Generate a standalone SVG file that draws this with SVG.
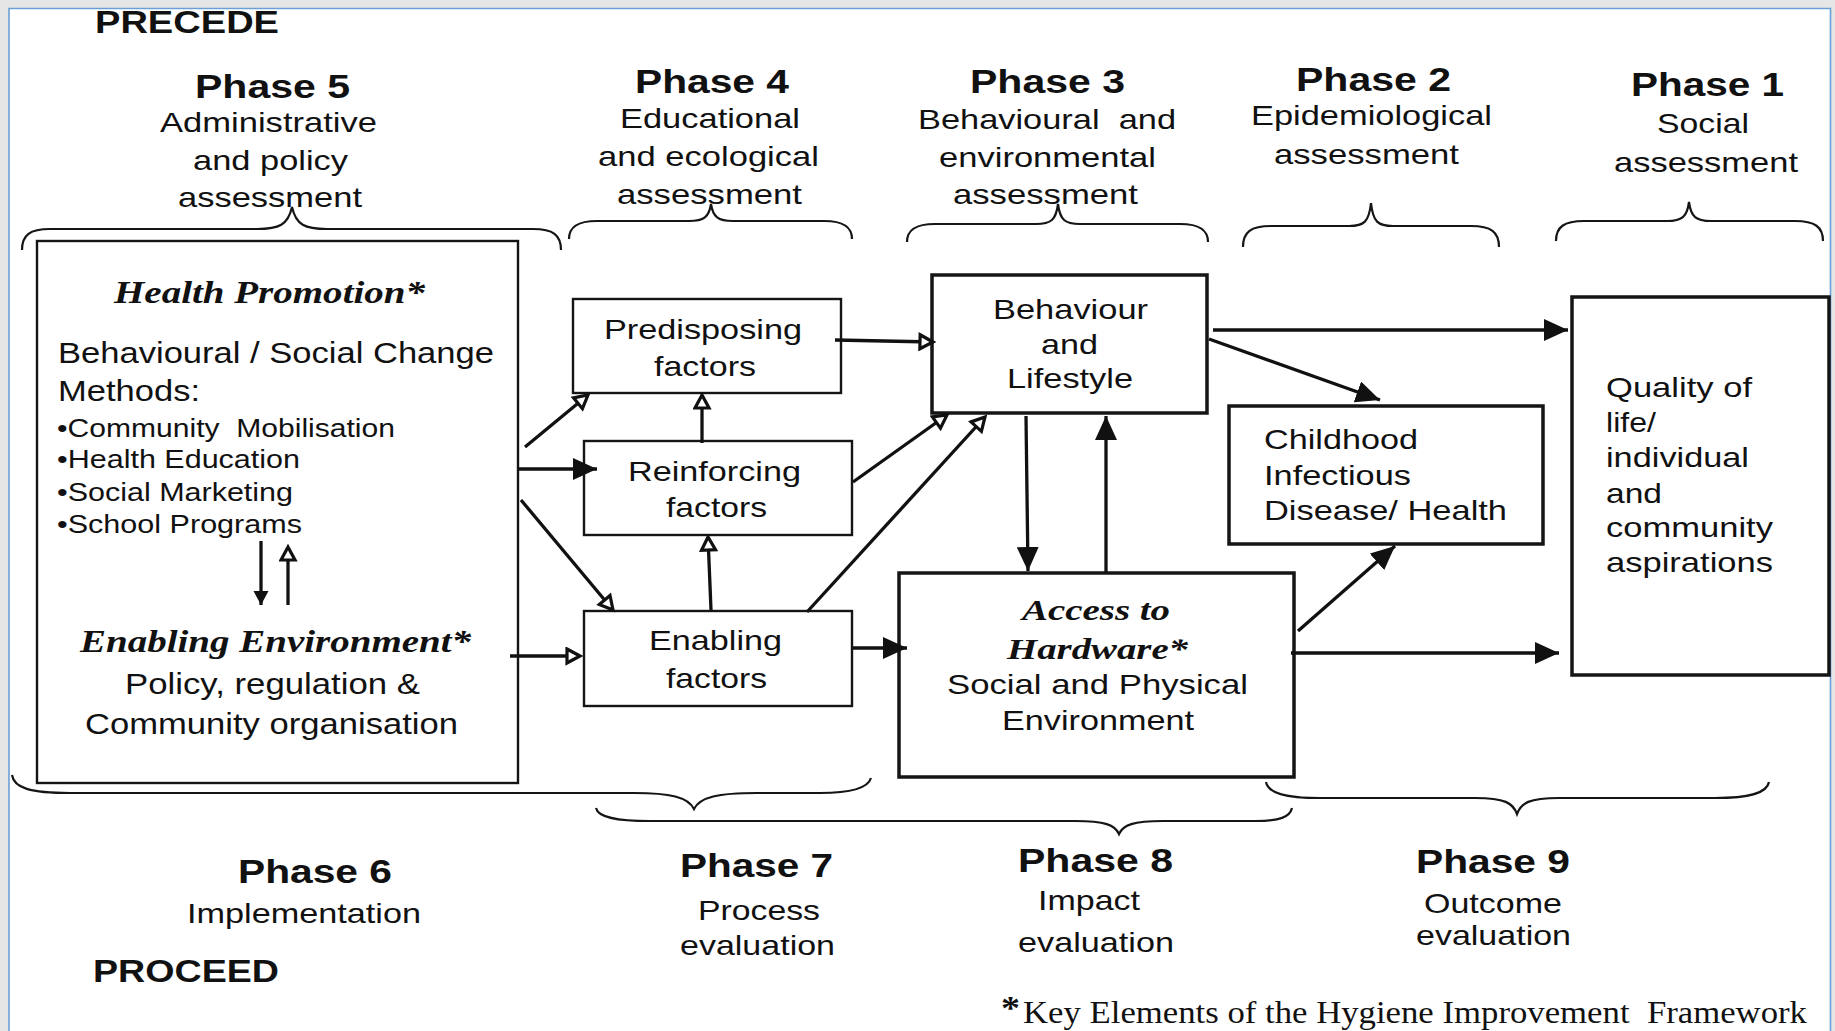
<svg xmlns="http://www.w3.org/2000/svg" width="1835" height="1031" viewBox="0 0 1835 1031">
<defs>
<style>
.s{font-family:"Liberation Sans",Arial,Helvetica,sans-serif;fill:#111;}
.t{font-size:28px;}
.b{font-size:29px;}
.u{font-size:25px;}
.h{font-size:33px;font-weight:bold;}
.bi{font-family:"Liberation Serif","Times New Roman",serif;font-weight:bold;font-style:italic;fill:#111;}
.fn{font-family:"Liberation Serif","Times New Roman",serif;fill:#111;}
.box{fill:#fff;stroke:#151515;stroke-width:2.4;}
.bx{fill:#fff;stroke:#151515;stroke-width:3.5;}
.br{fill:none;stroke:#151515;stroke-width:2.2;}
.c{fill:none;stroke:#111;stroke-width:3.3;}
</style>
<marker id="af" markerUnits="userSpaceOnUse" markerWidth="25" markerHeight="22" refX="24" refY="11" orient="auto"><path d="M0,0 L24,11 L0,22 z" fill="#111"/></marker>
<marker id="ao" markerUnits="userSpaceOnUse" markerWidth="19" markerHeight="19" refX="16" refY="9.5" orient="auto"><path d="M3,2.5 L16,9.5 L3,16.5 z" fill="#fff" stroke="#111" stroke-width="3.2" stroke-linejoin="miter"/></marker>
<marker id="as" markerUnits="userSpaceOnUse" markerWidth="15" markerHeight="16" refX="14" refY="8" orient="auto"><path d="M0,0.5 L14,8 L0,15.5 z" fill="#111"/></marker>
</defs>

<rect width="1835" height="1031" fill="#e6e6e6"/>
<rect x="9" y="8" width="1822" height="1023" fill="#fff"/>
<path d="M9,1031 V8.5 H1830.5 V1031" fill="none" stroke="#6c9fd8" stroke-width="1.6"/>

<g id="titles">
<text class="s" x="95" y="33" font-size="32" font-weight="bold" textLength="184" lengthAdjust="spacingAndGlyphs">PRECEDE</text>
<text class="s" x="93" y="982" font-size="32" font-weight="bold" textLength="186" lengthAdjust="spacingAndGlyphs">PROCEED</text>
</g>

<g id="phase-labels">
<text class="s h" x="195" y="98" textLength="155" lengthAdjust="spacingAndGlyphs">Phase 5</text>
<text class="s t" x="160" y="132" textLength="217" lengthAdjust="spacingAndGlyphs">Administrative</text>
<text class="s t" x="193" y="170" textLength="155" lengthAdjust="spacingAndGlyphs">and policy</text>
<text class="s t" x="178" y="207" textLength="184" lengthAdjust="spacingAndGlyphs">assessment</text>

<text class="s h" x="635" y="93" textLength="154" lengthAdjust="spacingAndGlyphs">Phase 4</text>
<text class="s t" x="620" y="128" textLength="180" lengthAdjust="spacingAndGlyphs">Educational</text>
<text class="s t" x="598" y="166" textLength="221" lengthAdjust="spacingAndGlyphs">and ecological</text>
<text class="s t" x="617" y="204" textLength="185" lengthAdjust="spacingAndGlyphs">assessment</text>

<text class="s h" x="970" y="93" textLength="155" lengthAdjust="spacingAndGlyphs">Phase 3</text>
<text class="s t" x="918" y="129" textLength="258" lengthAdjust="spacingAndGlyphs" xml:space="preserve">Behavioural  and</text>
<text class="s t" x="939" y="167" textLength="217" lengthAdjust="spacingAndGlyphs">environmental</text>
<text class="s t" x="953" y="204" textLength="185" lengthAdjust="spacingAndGlyphs">assessment</text>

<text class="s h" x="1296" y="91" textLength="155" lengthAdjust="spacingAndGlyphs">Phase 2</text>
<text class="s t" x="1251" y="125" textLength="241" lengthAdjust="spacingAndGlyphs">Epidemiological</text>
<text class="s t" x="1274" y="164" textLength="185" lengthAdjust="spacingAndGlyphs">assessment</text>

<text class="s h" x="1631" y="96" textLength="153" lengthAdjust="spacingAndGlyphs">Phase 1</text>
<text class="s t" x="1657" y="133" textLength="92" lengthAdjust="spacingAndGlyphs">Social</text>
<text class="s t" x="1614" y="172" textLength="184" lengthAdjust="spacingAndGlyphs">assessment</text>

<text class="s h" x="238" y="883" textLength="154" lengthAdjust="spacingAndGlyphs">Phase 6</text>
<text class="s t" x="187" y="923" textLength="234" lengthAdjust="spacingAndGlyphs">Implementation</text>

<text class="s h" x="680" y="877" textLength="153" lengthAdjust="spacingAndGlyphs">Phase 7</text>
<text class="s t" x="698" y="920" textLength="122" lengthAdjust="spacingAndGlyphs">Process</text>
<text class="s t" x="680" y="955" textLength="155" lengthAdjust="spacingAndGlyphs">evaluation</text>

<text class="s h" x="1018" y="872" textLength="155" lengthAdjust="spacingAndGlyphs">Phase 8</text>
<text class="s t" x="1038" y="910" textLength="102" lengthAdjust="spacingAndGlyphs">Impact</text>
<text class="s t" x="1018" y="952" textLength="156" lengthAdjust="spacingAndGlyphs">evaluation</text>

<text class="s h" x="1416" y="873" textLength="154" lengthAdjust="spacingAndGlyphs">Phase 9</text>
<text class="s t" x="1424" y="913" textLength="138" lengthAdjust="spacingAndGlyphs">Outcome</text>
<text class="s t" x="1416" y="945" textLength="155" lengthAdjust="spacingAndGlyphs">evaluation</text>
</g>

<g id="braces">
<path class="br" d="M22,250 C22,235 30,229 50,229 L257,229 C279,229 288,225 292,207 C296,225 305,229 327,229 L533,229 C553,229 561,235 561,250"/>
<path class="br" d="M569,239 C569,227 577,221 597,221 L689,221 C704,221 709,217 711,204 C713,217 718,221 733,221 L824,221 C844,221 852,227 852,239"/>
<path class="br" d="M907,242 C907,230 915,224 935,224 L1036,224 C1051,224 1056,220 1058,204 C1060,220 1065,224 1080,224 L1180,224 C1200,224 1208,230 1208,242"/>
<path class="br" d="M1243,247 C1243,232 1251,226 1271,226 L1349,226 C1364,226 1369,222 1371,203 C1373,222 1378,226 1393,226 L1471,226 C1491,226 1499,232 1499,247"/>
<path class="br" d="M1556,241 C1556,227 1564,221 1584,221 L1667,221 C1682,221 1687,217 1689,202 C1691,217 1696,221 1711,221 L1795,221 C1815,221 1823,227 1823,241"/>
<path class="br" d="M12,775 C14,788 30,793 70,793 L634,793 C670,793 688,797 694,809 C700,797 718,793 757,793 L820,793 C850,793 868,788 871,778"/>
<path class="br" d="M596,808 C598,817 615,821 650,821 L1075,821 C1105,821 1115,825 1119,834 C1123,825 1133,821 1163,821 L1255,821 C1280,821 1290,817 1292,808"/>
<path class="br" d="M1266,782 C1268,793 1285,798 1320,798 L1475,798 C1505,798 1513,803 1517,814 C1521,803 1529,798 1559,798 L1715,798 C1750,798 1767,793 1769,782"/>
</g>

<g id="health-promotion-box">
<rect class="box" x="37" y="241" width="481" height="542"/>
<text class="bi" x="114" y="303" font-size="32" textLength="311" lengthAdjust="spacingAndGlyphs">Health Promotion*</text>
<text class="s b" x="58" y="363" textLength="436" lengthAdjust="spacingAndGlyphs">Behavioural / Social Change</text>
<text class="s b" x="58" y="401" textLength="142" lengthAdjust="spacingAndGlyphs">Methods:</text>
<text class="s u" x="57" y="437" textLength="338" lengthAdjust="spacingAndGlyphs" xml:space="preserve">•Community  Mobilisation</text>
<text class="s u" x="57" y="468" textLength="243" lengthAdjust="spacingAndGlyphs">•Health Education</text>
<text class="s u" x="57" y="501" textLength="236" lengthAdjust="spacingAndGlyphs">•Social Marketing</text>
<text class="s u" x="57" y="533" textLength="245" lengthAdjust="spacingAndGlyphs">•School Programs</text>
<text class="bi" x="80" y="652" font-size="32" textLength="391" lengthAdjust="spacingAndGlyphs">Enabling Environment*</text>
<text class="s b" x="125" y="694" textLength="295" lengthAdjust="spacingAndGlyphs">Policy, regulation &amp;</text>
<text class="s b" x="85" y="734" textLength="373" lengthAdjust="spacingAndGlyphs">Community organisation</text>
</g>

<g id="predisposing">
<rect class="box" x="573" y="299" width="268" height="94"/>
<text class="s t" x="604" y="339" textLength="198" lengthAdjust="spacingAndGlyphs">Predisposing</text>
<text class="s t" x="654" y="376" textLength="102" lengthAdjust="spacingAndGlyphs">factors</text>
</g>

<g id="reinforcing">
<rect class="box" x="584" y="441" width="268" height="94"/>
<text class="s t" x="628" y="481" textLength="173" lengthAdjust="spacingAndGlyphs">Reinforcing</text>
<text class="s t" x="666" y="517" textLength="101" lengthAdjust="spacingAndGlyphs">factors</text>
</g>

<g id="enabling">
<rect class="box" x="584" y="611" width="268" height="95"/>
<text class="s t" x="649" y="650" textLength="133" lengthAdjust="spacingAndGlyphs">Enabling</text>
<text class="s t" x="666" y="688" textLength="101" lengthAdjust="spacingAndGlyphs">factors</text>
</g>

<g id="behaviour">
<rect class="bx" x="932" y="275" width="275" height="138"/>
<text class="s t" x="993" y="319" textLength="155" lengthAdjust="spacingAndGlyphs">Behaviour</text>
<text class="s t" x="1041" y="354" textLength="57" lengthAdjust="spacingAndGlyphs">and</text>
<text class="s t" x="1007" y="388" textLength="126" lengthAdjust="spacingAndGlyphs">Lifestyle</text>
</g>

<g id="access">
<rect class="bx" x="899" y="573" width="395" height="204"/>
<text class="bi" x="1022" y="620" font-size="30" textLength="148" lengthAdjust="spacingAndGlyphs">Access to</text>
<text class="bi" x="1007" y="659" font-size="30" textLength="181" lengthAdjust="spacingAndGlyphs">Hardware*</text>
<text class="s t" x="947" y="694" textLength="301" lengthAdjust="spacingAndGlyphs">Social and Physical</text>
<text class="s t" x="1002" y="730" textLength="192" lengthAdjust="spacingAndGlyphs">Environment</text>
</g>

<g id="childhood">
<rect class="bx" x="1229" y="406" width="314" height="138"/>
<text class="s t" x="1264" y="449" textLength="154" lengthAdjust="spacingAndGlyphs">Childhood</text>
<text class="s t" x="1264" y="485" textLength="147" lengthAdjust="spacingAndGlyphs">Infectious</text>
<text class="s t" x="1264" y="520" textLength="243" lengthAdjust="spacingAndGlyphs">Disease/ Health</text>
</g>

<g id="quality">
<rect class="bx" x="1572" y="297" width="257" height="378"/>
<text class="s t" x="1606" y="397" textLength="146" lengthAdjust="spacingAndGlyphs">Quality of</text>
<text class="s t" x="1606" y="432" textLength="50" lengthAdjust="spacingAndGlyphs">life/</text>
<text class="s t" x="1606" y="467" textLength="143" lengthAdjust="spacingAndGlyphs">individual</text>
<text class="s t" x="1606" y="503" textLength="56" lengthAdjust="spacingAndGlyphs">and</text>
<text class="s t" x="1606" y="537" textLength="167" lengthAdjust="spacingAndGlyphs">community</text>
<text class="s t" x="1606" y="572" textLength="167" lengthAdjust="spacingAndGlyphs">aspirations</text>
</g>

<g id="connectors">
<line class="c" x1="261" y1="541" x2="261" y2="605" marker-end="url(#as)"/>
<line class="c" x1="288" y1="605" x2="288" y2="547" marker-end="url(#ao)"/>
<line class="c" x1="525" y1="447" x2="588" y2="395" marker-end="url(#ao)"/>
<line class="c" x1="518" y1="469" x2="597" y2="469" marker-end="url(#af)"/>
<line class="c" x1="521" y1="500" x2="613" y2="610" marker-end="url(#ao)"/>
<line class="c" x1="510" y1="656" x2="580" y2="656" marker-end="url(#ao)"/>
<line class="c" x1="835" y1="340" x2="933" y2="342" marker-end="url(#ao)"/>
<line class="c" x1="702" y1="443" x2="702" y2="395" marker-end="url(#ao)"/>
<line class="c" x1="711" y1="610" x2="708" y2="537" marker-end="url(#ao)"/>
<line class="c" x1="853" y1="482" x2="947" y2="415" marker-end="url(#ao)"/>
<line class="c" x1="807" y1="612" x2="985" y2="417" marker-end="url(#ao)"/>
<line class="c" x1="853" y1="648" x2="907" y2="648" marker-end="url(#af)"/>
<line class="c" x1="1026" y1="416" x2="1028" y2="571" marker-end="url(#af)"/>
<line class="c" x1="1106" y1="573" x2="1106" y2="416" marker-end="url(#af)"/>
<line class="c" x1="1213" y1="330" x2="1568" y2="330" marker-end="url(#af)"/>
<line class="c" x1="1209" y1="339" x2="1380" y2="400" marker-end="url(#af)"/>
<line class="c" x1="1298" y1="631" x2="1395" y2="546" marker-end="url(#af)"/>
<line class="c" x1="1291" y1="653" x2="1559" y2="653" marker-end="url(#af)"/>
</g>

<g id="footnote">
<text class="fn" x="1001" y="1019" font-size="34" font-weight="bold" textLength="19" lengthAdjust="spacingAndGlyphs">*</text>
<text class="fn" x="1023" y="1023" font-size="31" textLength="784" lengthAdjust="spacingAndGlyphs" xml:space="preserve">Key Elements of the Hygiene Improvement  Framework</text>
</g>
</svg>
